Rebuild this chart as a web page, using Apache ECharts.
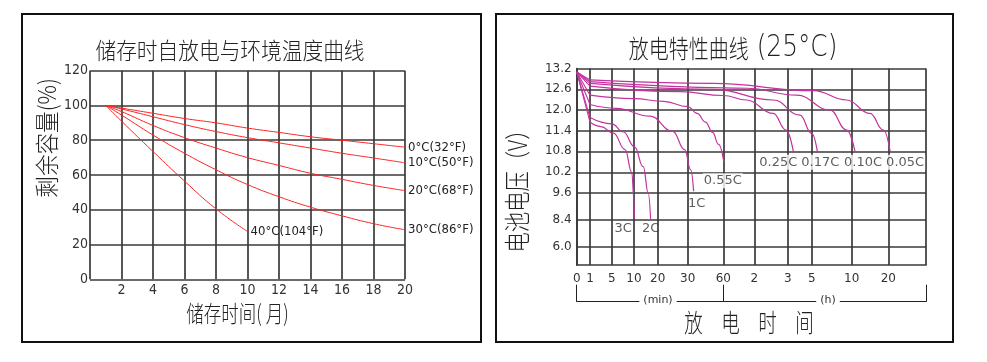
<!DOCTYPE html>
<html><head><meta charset="utf-8">
<script src="https://cdn.jsdelivr.net/npm/echarts@6/dist/echarts.min.js"></script>
<style>html,body{margin:0;padding:0;background:#fff}#c{width:987px;height:362px}</style>
</head><body><div id="c"></div>
<script>
// ================= DATA =================
// Left chart: storage self-discharge vs temperature
const months = [1, 2, 4, 6, 8, 10, 12, 14, 16, 18, 20];
const cap0C  = [100, 98.5, 95.5, 92.5, 90, 87, 84.5, 82, 80, 78, 76];
const cap10C = [100, 98, 93.5, 89, 85, 81.5, 78.5, 75.5, 72.5, 69.8, 67];
const cap20C = [100, 96.5, 88.5, 81.5, 75.5, 70, 65.5, 61, 57.5, 54, 51];
const cap30C = [100, 94.5, 83, 72.5, 63, 54.5, 47.5, 41.5, 36.5, 32, 28.5];
const months40 = [1, 2, 4, 6, 8, 10];
const cap40C = [100, 91, 73.5, 56.5, 40.5, 27.5];
const leftNames = ['0°C(32°F)', '10°C(50°F)', '20°C(68°F)', '30°C(86°F)', '40°C(104°F)'];

// Right chart: discharge characteristics (25°C); time in minutes, voltage in V
const timeTickLabels  = ['0', '1', '5', '10', '20', '30', '60', '2', '3', '5', '10', '20'];
const timeTickMinutes = [0, 1, 5, 10, 20, 30, 60, 120, 180, 300, 600, 1200];
const voltTickLabels  = ['6.0', '8.4', '9.6', '10.2', '10.8', '11.4', '12.0', '12.6', '13.2'];
const voltTickValues  = [6.0, 8.4, 9.6, 10.2, 10.8, 11.4, 12.0, 12.6, 13.2];

const t3C = [0, 1, 3, 5.4, 8, 9.5, 10, 10.1];
const v3C = [13.1, 11.65, 11.52, 11.33, 10.85, 10.2, 9.3, 8.45];
const t2C = [0, 1, 5, 7.6, 10.2, 13.9, 16, 17];
const v2C = [13.1, 11.78, 11.6, 11.37, 10.93, 10.36, 9.6, 8.45];
const t1C = [0, 1, 6, 16.8, 25, 29, 32.5, 35];
const v1C = [13.1, 12.16, 12.05, 11.82, 11.38, 10.85, 10.27, 9.65];
const t055C = [0, 1, 10, 22, 30, 38, 45, 51, 56, 61];
const v055C = [13.1, 12.43, 12.33, 12.25, 12.1, 11.9, 11.65, 11.35, 11.0, 10.5];
const t025C = [0, 1, 27.6, 60, 105, 154, 177, 208];
const v025C = [13.1, 12.69, 12.53, 12.42, 12.29, 11.9, 11.42, 10.8];
const t017C = [0, 1, 51.6, 154, 241, 300, 342];
const v017C = [13.1, 12.77, 12.6, 12.29, 11.85, 11.32, 10.8];
const t010C = [0, 1, 105, 225, 437, 562, 654];
const v010C = [13.1, 12.82, 12.63, 12.43, 12.0, 11.42, 10.8];
const t005C = [0, 1, 51.6, 312, 562, 900, 1118, 1230];
const v005C = [13.1, 12.87, 12.77, 12.56, 12.29, 11.9, 11.42, 10.8];
const rightNames = ['3C', '2C', '1C', '0.55C', '0.25C', '0.17C', '0.10C', '0.05C'];

// ================= LAYOUT / STYLE =================
// positions of the non-linear ticks along the right chart's axes (axis units)
const timeTickPos = [0, 13.3, 35, 57.3, 81, 111, 146.6, 177.6, 211, 235, 275, 311.6];
const timeAxisMax = 349.3;
const voltTickPos = [18.5, 45, 72, 92.7, 113.7, 134.3, 155, 175.7, 196.5];
const voltAxisMax = 196.5;

const NARROW = "'Liberation Sans Narrow','DejaVu Sans Condensed','Liberation Sans',sans-serif";
const ROUND = "'DejaVu Sans',sans-serif";
const CJK = "'Noto Sans CJK SC','Noto Sans CJK JP',sans-serif";

function interp(v, xs, ys) {
  let i = 0;
  while (i < xs.length - 2 && v > xs[i + 1]) i++;
  const t = (v - xs[i]) / (xs[i + 1] - xs[i]);
  return ys[i] + t * (ys[i + 1] - ys[i]);
}
const toPt = (m, v) => [interp(m, timeTickMinutes, timeTickPos), interp(v, voltTickValues, voltTickPos)];

const leftData = [
  months.map((m, i) => [m, cap0C[i]]),
  months.map((m, i) => [m, cap10C[i]]),
  months.map((m, i) => [m, cap20C[i]]),
  months.map((m, i) => [m, cap30C[i]]),
  months40.map((m, i) => [m, cap40C[i]])
];
const rightRaw = [[t3C, v3C], [t2C, v2C], [t1C, v1C], [t055C, v055C], [t025C, v025C], [t017C, v017C], [t010C, v010C], [t005C, v005C]];
const rightData = rightRaw.map(([ts, vs]) => ts.map((m, i) => toPt(m, vs[i])));
// label offsets (px) relative to each curve's end
const labelOffsets = [[-11, 10], [0, 10], [3, 12], [-1, 19], [-15, 11], [3, 11], [8, 11], [15, 11]];
const labelBg = [false, false, false, true, true, true, true, true];

const GRID_COLOR = '#3a3a3a';
const gridLine = { show: true, lineStyle: { color: GRID_COLOR, width: 1.7 } };
const MAGENTA = '#c4329e';

const series = [];
leftData.forEach((d, k) => series.push({
  type: 'line', name: leftNames[k], xAxisIndex: 0, yAxisIndex: 0, data: d,
  smooth: true, showSymbol: false, silent: true,
  lineStyle: { color: '#ff2424', width: 1 },
  endLabel: { show: true, formatter: '{a}', distance: 3, fontFamily: NARROW, fontSize: 13, color: '#222' }
}));
rightData.forEach((d, k) => {
  // straight initial drop (0 -> 1 min), then the smooth discharge curve
  series.push({
    type: 'line', name: rightNames[k] + '-start', xAxisIndex: 1, yAxisIndex: 1, data: d.slice(0, 2),
    smooth: false, showSymbol: false, silent: true, lineStyle: { color: MAGENTA, width: 1.1 }
  });
  series.push({
    type: 'line', name: rightNames[k], xAxisIndex: 1, yAxisIndex: 1, data: d.slice(1),
    smooth: 0.45, smoothMonotone: 'x', showSymbol: false, silent: true,
    lineStyle: { color: MAGENTA, width: 1.2 }
  });
});
series.push({
  type: 'scatter', xAxisIndex: 1, yAxisIndex: 1, symbolSize: 1, silent: true,
  itemStyle: { color: 'rgba(0,0,0,0)' }, z: 5,
  label: { show: true, position: 'inside', formatter: '{b}', fontFamily: ROUND, fontSize: 13, color: '#333' },
  data: rightData.map((d, k) => ({
    name: rightNames[k], value: d[d.length - 1],
    label: { offset: labelOffsets[k], backgroundColor: labelBg[k] ? '#fff' : 'transparent', padding: [1, 1] }
  }))
});

const option = {
  animation: false,
  grid: [
    { left: 90, top: 70.7, width: 315, height: 208.6 },
    { left: 576.7, top: 68.5, width: 349.3, height: 196.5 }
  ],
  xAxis: [
    { gridIndex: 0, type: 'value', min: 0, max: 20, interval: 2,
      axisLine: { show: false }, axisTick: { show: false }, splitLine: gridLine,
      axisLabel: { formatter: v => (v === 0 ? '' : v), fontFamily: NARROW, fontSize: 14, color: '#333', margin: 4 } },
    { gridIndex: 1, type: 'value', min: 0, max: timeAxisMax,
      axisLine: { show: true, lineStyle: { color: GRID_COLOR, width: 1.7 } },
      axisTick: { show: false, customValues: timeTickPos.concat([timeAxisMax]) },
      splitLine: gridLine,
      axisLabel: { customValues: timeTickPos,
        formatter: v => timeTickLabels[timeTickPos.findIndex(p => Math.abs(p - v) < 0.01)],
        fontFamily: ROUND, fontSize: 12, color: '#333', margin: 8 } },
    { gridIndex: 1, type: 'value', min: 0, max: timeAxisMax, position: 'bottom', offset: 36.7,
      axisLine: { show: true, lineStyle: { color: '#222', width: 1 } },
      axisTick: { show: true, inside: true, length: 17, customValues: [0, 146.6, timeAxisMax], lineStyle: { color: '#222', width: 1 } },
      splitLine: { show: false },
      axisLabel: { customValues: [81.3, 251.3], formatter: v => (v < 150 ? '(min)' : '(h)'),
        margin: -7, backgroundColor: '#fff', padding: [0, 4], fontFamily: ROUND, fontSize: 11, color: '#333' } }
  ],
  yAxis: [
    { gridIndex: 0, type: 'value', min: 0, max: 120, interval: 20,
      axisLine: { show: false }, axisTick: { show: false }, splitLine: gridLine,
      axisLabel: { fontFamily: NARROW, fontSize: 14, color: '#333', margin: 2 } },
    { gridIndex: 1, type: 'value', min: 0, max: voltAxisMax,
      axisLine: { show: true, lineStyle: { color: GRID_COLOR, width: 1.7 } },
      axisTick: { show: false, customValues: voltTickPos },
      splitLine: gridLine,
      axisLabel: { customValues: voltTickPos,
        formatter: v => voltTickLabels[voltTickPos.findIndex(p => Math.abs(p - v) < 0.01)],
        fontFamily: ROUND, fontSize: 12, color: '#333', margin: 5 } }
  ],
  graphic: [
    { type: 'rect', shape: { x: 22, y: 14, width: 459, height: 328 }, style: { fill: 'none', stroke: '#111', lineWidth: 2 } },
    { type: 'rect', shape: { x: 496, y: 14, width: 457, height: 328 }, style: { fill: 'none', stroke: '#111', lineWidth: 2 } },
    { type: 'text', x: 230, y: 50, scaleX: 0.9,
      style: { text: '储存时自放电与环境温度曲线', fontSize: 23, fontFamily: CJK, fontWeight: 300, fill: '#222',
        align: 'center', verticalAlign: 'middle', textAlign: 'center', textVerticalAlign: 'middle' } },
    { type: 'text', x: 733, y: 48, scaleX: 0.8,
      style: { text: '{a|放电特性曲线}{b|(25°C)}', fill: '#222',
        rich: { a: { fontSize: 25, fontFamily: CJK, fontWeight: 300, fill: '#222' },
                b: { fontSize: 31, fontFamily: ROUND, fontWeight: 200, fill: '#222', padding: [0, 0, 0, 10] } },
        align: 'center', verticalAlign: 'middle', textAlign: 'center', textVerticalAlign: 'middle' } },
    { type: 'text', x: 47, y: 138, rotation: Math.PI / 2, scaleX: 0.9,
      style: { text: '剩余容量(%)', fontSize: 24, fontFamily: CJK, fontWeight: 300, fill: '#222',
        align: 'center', verticalAlign: 'middle', textAlign: 'center', textVerticalAlign: 'middle' } },
    { type: 'text', x: 237.5, y: 313, scaleX: 0.76,
      style: { text: '储存时间( 月)', fontSize: 23, fontFamily: CJK, fontWeight: 300, fill: '#222',
        align: 'center', verticalAlign: 'middle', textAlign: 'center', textVerticalAlign: 'middle' } },
    { type: 'text', x: 516.7, y: 186, rotation: Math.PI / 2, scaleX: 0.78,
      style: { text: '电池电压（V）', fontSize: 26, fontFamily: CJK, fontWeight: 300, fill: '#222',
        align: 'center', verticalAlign: 'middle', textAlign: 'center', textVerticalAlign: 'middle' } },
    { type: 'text', x: 749, y: 322, scaleX: 0.74,
      style: { text: '放\u3000电\u3000时\u3000间', fontSize: 25, fontFamily: CJK, fontWeight: 300, fill: '#222',
        align: 'center', verticalAlign: 'middle', textAlign: 'center', textVerticalAlign: 'middle' } }
  ],
  series: series
};
const chart = echarts.init(document.getElementById('c'), null, { renderer: 'canvas' });
chart.setOption(option);
</script>
</body></html>
